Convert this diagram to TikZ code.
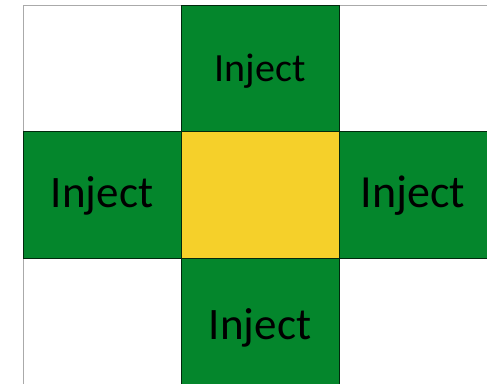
\documentclass[tikz,border=0pt]{standalone}
\usepackage{fontspec}
\setmainfont{Carlito}
\usepackage{tikz}
\usetikzlibrary{positioning}

\definecolor{injgreen}{RGB}{4,134,44}
\definecolor{hubyellow}{RGB}{245,208,42}
\definecolor{gridgray}{RGB}{170,170,170}

\begin{document}
\begin{tikzpicture}[
  node distance=0pt,
  cell/.style={rectangle, minimum width=158pt, minimum height=126.5pt, inner sep=0pt,
    outer sep=0pt, anchor=center},
  blank/.style={cell, draw=gridgray, fill=white, line width=0.9pt},
  inject/.style={cell, draw=black!70!injgreen, fill=injgreen, line width=0.6pt},
  hub/.style={cell, draw=black!60!hubyellow, fill=hubyellow, line width=0.6pt},
  injtext/.style={inner sep=0pt, font=\fontsize{#1}{#1}\selectfont},
]
\useasboundingbox (0pt,0pt) rectangle (487pt,-383pt);

% centre cell
\node[hub] (centre) at (260pt,-194.75pt) {};

% corner cells
\node[blank, above left=of centre] (nw) {};
\node[blank, above right=of centre] (ne) {};
\node[blank, below left=of centre] (sw) {};
\node[blank, below right=of centre] (se) {};

% injection cells
\node[inject, above=of centre,
  label={[injtext=40, yshift=-3pt]center:Inject}] (north) {};
\node[inject, left=of centre,
  label={[injtext=45, yshift=-1pt]center:Inject}] (west) {};
\node[inject, right=of centre,
  label={[injtext=46, xshift=-5pt, yshift=-1pt]center:Inject}] (east) {};
\node[inject, below=of centre,
  label={[injtext=45, yshift=-7pt]center:Inject}] (south) {};

\end{tikzpicture}
\end{document}
